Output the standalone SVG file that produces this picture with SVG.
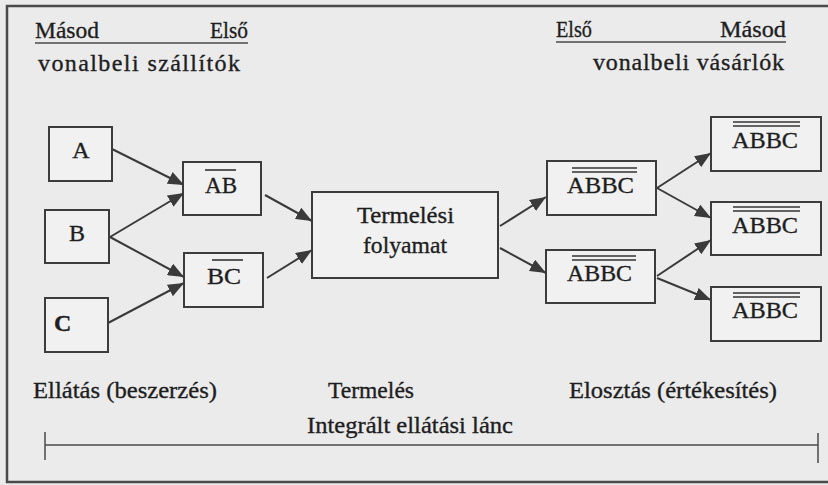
<svg xmlns="http://www.w3.org/2000/svg" width="828" height="485" viewBox="0 0 828 485" font-family="Liberation Serif, Times New Roman, serif" font-size="24">
<style>
  .bg { fill: #ebebeb; }
  .frame { fill: none; stroke: #4a4a4a; stroke-width: 2.5; }
  .box { fill: #f1f1f1; stroke: #3c3c3c; stroke-width: 2; }
  .ol { stroke: #333; stroke-width: 1.6; fill: none; }
  .conn line { stroke: #3a3a3a; stroke-width: 2; marker-end: url(#ah); }
  .rule { stroke: #4a4a4a; stroke-width: 1.5; fill: none; }
  .lbl { fill: #1e1e1e; stroke: #1e1e1e; stroke-width: 0.35; }
</style>
<defs>
  <marker id="ah" markerUnits="userSpaceOnUse" markerWidth="16" markerHeight="13" refX="16" refY="6.5" orient="auto">
    <path d="M0,0 L16,6.5 L0,13 Z" fill="#3a3a3a"/>
  </marker>
</defs>
<rect class="bg" x="0" y="0" width="828" height="485"/>
<path class="frame" d="M830,6 L7,6 L7,482 L830,482"/>

<g id="header-left">
  <text class="lbl" x="35" y="38" textLength="64" lengthAdjust="spacingAndGlyphs">Másod</text>
  <text class="lbl" x="210" y="38" textLength="38" lengthAdjust="spacingAndGlyphs">Első</text>
  <line class="rule" x1="35" y1="43" x2="248" y2="43"/>
  <text class="lbl" x="38" y="71" textLength="202" lengthAdjust="spacing">vonalbeli szállítók</text>
</g>
<g id="header-right">
  <text class="lbl" x="556" y="37" textLength="36" lengthAdjust="spacingAndGlyphs">Első</text>
  <text class="lbl" x="720" y="37" textLength="66" lengthAdjust="spacingAndGlyphs">Másod</text>
  <line class="rule" x1="556" y1="42" x2="786" y2="42"/>
  <text class="lbl" x="593" y="70" textLength="191" lengthAdjust="spacing">vonalbeli vásárlók</text>
</g>

<g class="conn" id="connectors">
  <line x1="112" y1="149" x2="184" y2="185"/>
  <line x1="110" y1="237" x2="184" y2="193"/>
  <line x1="110" y1="237" x2="184" y2="277"/>
  <line x1="108" y1="323" x2="184" y2="283"/>
  <line x1="265" y1="195" x2="312" y2="221"/>
  <line x1="267" y1="278" x2="312" y2="250"/>
  <line x1="500" y1="226" x2="546" y2="197"/>
  <line x1="500" y1="248" x2="546" y2="273"/>
  <line x1="657" y1="188" x2="711" y2="153"/>
  <line x1="657" y1="188" x2="711" y2="218"/>
  <line x1="657" y1="276" x2="711" y2="240"/>
  <line x1="657" y1="278" x2="711" y2="300"/>
</g>

<g id="node-A">
  <rect class="box" x="49" y="127" width="63" height="54"/>
  <text class="lbl" x="81" y="158" text-anchor="middle">A</text>
</g>
<g id="node-B">
  <rect class="box" x="45" y="210" width="64" height="53"/>
  <text class="lbl" x="77" y="241" text-anchor="middle">B</text>
</g>
<g id="node-C">
  <rect class="box" x="45" y="298" width="63" height="54"/>
  <text class="lbl" x="54" y="331" font-weight="bold">C</text>
</g>
<g id="node-AB">
  <rect class="box" x="183" y="162" width="78" height="53"/>
  <text class="lbl" x="205" y="193" textLength="32" lengthAdjust="spacingAndGlyphs">AB</text>
  <line class="ol" x1="205" y1="170" x2="236" y2="170"/>
</g>
<g id="node-BC">
  <rect class="box" x="184" y="253" width="79" height="54"/>
  <text class="lbl" x="207" y="284" textLength="34" lengthAdjust="spacingAndGlyphs">BC</text>
  <line class="ol" x1="212" y1="260" x2="243" y2="260"/>
</g>
<g id="node-termelesi">
  <rect class="box" x="312" y="192" width="186" height="86"/>
  <text class="lbl" x="357" y="223" textLength="97" lengthAdjust="spacingAndGlyphs">Termelési</text>
  <text class="lbl" x="363" y="253" textLength="84" lengthAdjust="spacingAndGlyphs">folyamat</text>
</g>
<g id="node-E1">
  <rect class="box" x="547" y="161" width="109" height="54"/>
  <text class="lbl" x="567" y="193" textLength="67" lengthAdjust="spacingAndGlyphs">ABBC</text>
  <line class="ol" x1="572" y1="168" x2="637" y2="168"/>
  <line class="ol" x1="572" y1="172" x2="637" y2="172"/>
</g>
<g id="node-E2">
  <rect class="box" x="546" y="250" width="109" height="53"/>
  <text class="lbl" x="567" y="281" textLength="65" lengthAdjust="spacingAndGlyphs">ABBC</text>
  <line class="ol" x1="572" y1="256" x2="636" y2="256"/>
  <line class="ol" x1="572" y1="260" x2="636" y2="260"/>
</g>
<g id="node-M1">
  <rect class="box" x="711" y="117" width="110" height="54"/>
  <text class="lbl" x="732" y="148" textLength="66" lengthAdjust="spacingAndGlyphs">ABBC</text>
  <line class="ol" x1="733" y1="122" x2="800" y2="122"/>
  <line class="ol" x1="733" y1="126" x2="800" y2="126"/>
</g>
<g id="node-M2">
  <rect class="box" x="711" y="202" width="110" height="53"/>
  <text class="lbl" x="732" y="233" textLength="66" lengthAdjust="spacingAndGlyphs">ABBC</text>
  <line class="ol" x1="733" y1="207" x2="800" y2="207"/>
  <line class="ol" x1="733" y1="211" x2="800" y2="211"/>
</g>
<g id="node-M3">
  <rect class="box" x="711" y="287" width="110" height="54"/>
  <text class="lbl" x="732" y="318" textLength="66" lengthAdjust="spacingAndGlyphs">ABBC</text>
  <line class="ol" x1="733" y1="293" x2="800" y2="293"/>
  <line class="ol" x1="733" y1="297" x2="800" y2="297"/>
</g>

<g id="footer">
  <text class="lbl" x="33" y="398" textLength="184" lengthAdjust="spacingAndGlyphs">Ellátás (beszerzés)</text>
  <text class="lbl" x="328" y="398" textLength="86" lengthAdjust="spacingAndGlyphs">Termelés</text>
  <text class="lbl" x="569" y="398" textLength="208" lengthAdjust="spacingAndGlyphs">Elosztás (értékesítés)</text>
  <text class="lbl" x="307" y="433" textLength="206" lengthAdjust="spacingAndGlyphs">Integrált ellátási lánc</text>
  <line class="rule" x1="45" y1="445" x2="818" y2="445"/>
  <line class="rule" x1="45" y1="432" x2="45" y2="460"/>
  <line class="rule" x1="818" y1="433" x2="818" y2="463"/>
</g>
</svg>
